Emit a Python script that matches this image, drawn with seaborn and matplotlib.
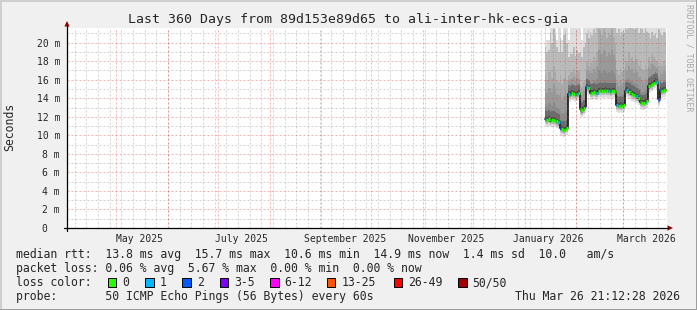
import numpy as np
import pandas as pd
import matplotlib
matplotlib.use("Agg")
import matplotlib.pyplot as plt
import matplotlib.dates as mdates
from matplotlib.patches import Polygon, Rectangle
import seaborn as sns

# ---------------- data ----------------
title = "Last 360 Days from 89d153e89d65 to ali-inter-hk-ecs-gia"
first_day = "2026-01-13"
median_ms = [11.8, 11.7, 11.8, 11.6, 11.7, 11.7, 11.6, 11.5, 11.4,
             10.8, 10.7, 10.6, 10.7, 10.8,
             14.5, 14.4, 14.6, 14.5, 14.4, 14.5, 14.6,
             12.8, 12.7, 12.9, 13.2,
             15.2, 15.1,
             14.6, 14.6, 14.7, 14.6, 14.6, 14.8, 14.9, 14.8, 14.8, 14.9, 14.8, 14.8, 14.7, 14.8, 14.8, 14.7,
             13.3, 13.2, 13.3, 13.2, 13.3,
             14.8, 14.9, 14.7, 14.7,
             14.5, 14.4, 14.3, 14.2, 14.0,
             13.6, 13.5, 13.5, 13.6, 13.7,
             15.3, 15.4, 15.5, 15.7, 15.9, 15.8,
             13.9,
             14.9, 14.8, 14.9, 14.9]
p75_ms = [16.5, 16.0, 16.8, 17.0, 16.2, 17.5, 16.8, 16.0, 15.8, 16.5, 15.5, 16.2, 16.8, 16.0,
          16.5, 17.0, 16.8, 17.2, 16.6, 17.0, 16.9, 15.5, 15.2, 15.8, 16.0,
          18.0, 17.5, 18.2, 17.8, 18.5, 18.0, 19.0,
          21.5, 21.0, 20.8, 21.5, 21.2, 20.5, 21.0, 20.8, 21.5, 20.6, 20.0,
          17.0, 16.5, 17.2, 16.8, 17.0,
          18.5, 18.0, 19.0, 18.2, 18.5, 18.0, 18.6, 18.2, 17.5, 17.8, 17.2, 17.0, 17.6, 17.2,
          18.5, 18.0, 18.8, 18.5, 18.2, 18.0, 17.5, 17.8, 17.5, 18.0, 17.6]
p90_ms = [19.5, 19.0, 19.2, 21.0, 20.0, 21.5, 20.8, 19.5, 19.0, 20.5, 19.0, 20.8, 21.0, 20.0,
          18.5, 19.0, 18.8, 19.5, 18.6, 19.2, 18.9, 19.0, 18.5, 19.5, 20.0,
          21.0, 20.5, 21.2, 20.8, 21.5, 21.0, 22.0,
          23.0, 23.0, 22.5, 23.0, 23.0, 22.8, 23.0, 22.5, 23.0, 22.6, 22.0,
          21.0, 21.5, 20.8, 21.2, 21.0,
          22.0, 21.5, 22.5, 21.8, 22.0, 21.5, 22.0, 21.6, 21.0, 22.0, 21.5, 21.0, 21.8, 21.2,
          21.0, 20.5, 21.2, 20.8, 21.0, 20.5, 21.5, 21.0, 20.8, 21.2, 21.0]
max_ms = [25, 20.3, 20.3, 25, 25, 25, 25, 20.3, 25, 25, 20.3, 25, 25, 25,
          20.3, 25, 25, 25, 25, 25, 25, 25, 20.3, 25, 25,
          25, 25, 25, 25, 25, 25, 25,
          25, 25, 25, 25, 25, 25, 25, 25, 25, 25, 25,
          25, 25, 25, 25, 25,
          25, 25, 25, 25, 25, 25, 25, 25, 25, 25, 25, 25, 25, 25,
          25, 25, 25, 25, 25, 25, 25, 25, 25, 25, 25]
loss_level = [1, 0, 0, 0, 0, 0, 0, 0, 1,
              2, 0, 0, 0, 0,
              1, 0, 0, 0, 0, 1, 0,
              0, 0, 0, 3,
              1, 0,
              0, 0, 0, 0, 1, 0, 0, 0, 0, 0, 0, 1, 0, 0, 0, 0,
              1, 0, 0, 0, 0,
              0, 1, 0, 0,
              0, 0, 0, 1, 0,
              0, 0, 0, 1, 0,
              0, 0, 0, 0, 0, 1,
              2,
              1, 0, 0, 0]

y_ticks = [0, 2, 4, 6, 8, 10, 12, 14, 16, 18, 20]
y_labels = ["0  ", "2 m", "4 m", "6 m", "8 m", "10 m", "12 m", "14 m", "16 m", "18 m", "20 m"]
month_labels = ["May 2025", "July 2025", "September 2025", "November 2025", "January 2026", "March 2026"]
month_label_dates = ["2025-05-15", "2025-07-15", "2025-09-15", "2025-11-15", "2026-01-15", "2026-03-15"]

loss_names = ["0", "1", "2", "3-5", "6-12", "13-25", "26-49", "50/50"]
loss_colors = ["#26ff00", "#00b8ff", "#0059ff", "#7e00ff", "#ff00ff", "#ff5500", "#ff0000", "#a10000"]

legend_rtt = "median rtt:  13.8 ms avg  15.7 ms max  10.6 ms min  14.9 ms now  1.4 ms sd  10.0   am/s"
legend_loss = "packet loss: 0.06 % avg  5.67 % max  0.00 % min  0.00 % now"
legend_probe = "probe:       50 ICMP Echo Pings (56 Bytes) every 60s"
stamp = "Thu Mar 26 21:12:28 2026"

# ---------------- style ----------------
sns.set_style("white")
plt.rcParams["font.family"] = ["DejaVu Sans Mono", "DejaVu Sans"]
MONO = "DejaVu Sans Mono"

W, H = 697, 310
fig = plt.figure(figsize=(W / 100, H / 100), dpi=100, facecolor="#f0f0f0")


def fx(x):
    return x / W


def fy(y):
    return 1 - y / H


L, R, T, B = 67, 667, 28, 228
ax = fig.add_axes([fx(L), fy(B), (R - L) / W, (B - T) / H])
ax.set_facecolor("white")
for s in ax.spines.values():
    s.set_visible(False)

start = pd.Timestamp("2025-04-01 08:00")
end = start + pd.Timedelta(days=360)
x0, x1 = mdates.date2num(start), mdates.date2num(end)
ymax = (B - T) / ((B - 42.7) / 20.0)
ax.set_xlim(x0, x1)
ax.set_ylim(0, ymax)

days = pd.date_range(first_day, periods=len(median_ms), freq="D")
xs = mdates.date2num(days)
xe = np.append(xs, xs[-1] + 1)
med = np.array(median_ms)
p75 = np.array(p75_ms)


def ext(a):
    a = np.asarray(a, dtype=float)
    return np.append(a, a[-1])


def band(lo, hi, alpha):
    ax.fill_between(xe, ext(lo), ext(np.minimum(hi, ymax + 2)), step="post",
                    color="black", alpha=alpha, linewidth=0, zorder=2)


# smoke: stacked translucent bands, darkest around the median
band(med - 0.75, max_ms, 0.13)
band(med - 0.45, p90_ms, 0.16)
for f in (1.0, 0.66, 0.33):
    band(med - 0.25, med + f * (p75 - med), 0.09)
band(med - 0.12, med + 0.9, 0.22)
band(med - 0.05, med + 0.3, 0.3)

# median: dark step line with loss-coloured segments
sns.lineplot(x=xe, y=ext(med), drawstyle="steps-post", color="#202020", lw=1.3,
             estimator=None, ax=ax, zorder=3, legend=False)
ax.hlines(med, xs, xs + 1, colors=[loss_colors[k] for k in loss_level], lw=2.4, zorder=4)

# grid on top (dotted)
red = (0.9, 0.25, 0.25, 0.4)
gray = (0.5, 0.5, 0.5, 0.35)
dots = (0, (2, 2))
for y in range(1, 22):
    ax.axhline(y, color=red if y % 2 == 0 else gray, lw=0.72, ls=dots, zorder=5, snap=True)
weeks = mdates.WeekdayLocator(byweekday=mdates.SU).tick_values(start, end)
months = mdates.MonthLocator().tick_values(start, end)
months = [m for m in months if x0 < m < x1]
for w in weeks:
    if x0 < w < x1:
        ax.axvline(w, color=gray, lw=0.72, ls=dots, zorder=5, snap=True)
for m in months:
    ax.axvline(m, color=red, lw=0.72, ls=dots, zorder=5, snap=True)

# ticks
ax.set_yticks(y_ticks)
ax.set_yticklabels(y_labels, family=MONO, fontsize=7)
ax.set_yticks(range(1, 22, 2), minor=True)
ax.tick_params(axis="y", which="major", length=4, width=0.7, direction="inout", color="#7a2020", pad=3)
ax.tick_params(axis="y", which="minor", length=3, width=0.6, direction="inout", color="#c07070")
ax.set_xticks(mdates.date2num(pd.to_datetime(month_label_dates)))
ax.set_xticklabels(month_labels, family=MONO, fontsize=7)
ax.set_xticks(months, minor=True)
ax.tick_params(axis="x", which="major", length=0, pad=4.5)
ax.tick_params(axis="x", which="minor", length=3, width=0.6, direction="out", color="#7a2020")

# axes lines + arrows (figure pixel coordinates)
fig.add_artist(plt.Line2D([fx(L), fx(L)], [fy(B + 3), fy(26)], color="black", lw=0.9))
fig.add_artist(plt.Line2D([fx(L - 3), fx(R + 1)], [fy(B), fy(B)], color="black", lw=0.9))
fig.add_artist(Polygon([(fx(L - 2.6), fy(26.5)), (fx(L + 2.6), fy(26.5)), (fx(L), fy(21))],
                       closed=True, color="#8b0000", lw=0))
fig.add_artist(Polygon([(fx(R + 0.5), fy(B - 2.6)), (fx(R + 0.5), fy(B + 2.6)), (fx(R + 6), fy(B))],
                       closed=True, color="#8b0000", lw=0))

# texts
fig.text(fx(348), fy(19), title, ha="center", va="center", fontsize=9.5, family=MONO)
fig.text(fx(10), fy(127), "Seconds", rotation=90, ha="center", va="center", fontsize=8.3, family=MONO)
fig.text(fx(688.5), fy(4), "RRDTOOL / TOBI OETIKER", rotation=270, ha="center", va="top",
         fontsize=5.9, family=MONO, color="#a8a8a8")

LX = 16
fig.text(fx(LX), fy(254.5), legend_rtt, ha="left", va="center", fontsize=8.3, family=MONO)
fig.text(fx(LX), fy(268.5), legend_loss, ha="left", va="center", fontsize=8.3, family=MONO)
fig.text(fx(LX), fy(282.5), "loss color:", ha="left", va="center", fontsize=8.3, family=MONO)
fig.text(fx(LX), fy(296.5), legend_probe, ha="left", va="center", fontsize=8.3, family=MONO)
fig.text(fx(680), fy(296.5), stamp, ha="right", va="center", fontsize=8.3, family=MONO)

box_x = [108.0, 145.3, 182.2, 219.6, 270.2, 326.7, 393.8, 458.2]
for bx, name, col in zip(box_x, loss_names, loss_colors):
    fig.add_artist(Rectangle((fx(bx), fy(286.5)), 8.4 / W, 8.6 / H, facecolor=col,
                             edgecolor="black", lw=0.7))
    fig.text(fx(bx + 14.5), fy(282.5), name, ha="left", va="center", fontsize=8.3, family=MONO)

# outer border (rrdtool shade)
fig.add_artist(Rectangle((0, 0), 1.5 / W, 1, facecolor="#cfcfcf", lw=0))
fig.add_artist(Rectangle((0, 1 - 1.5 / H), 1, 1.5 / H, facecolor="#cfcfcf", lw=0))
fig.add_artist(Rectangle((1 - 1.5 / W, 0), 1.5 / W, 1, facecolor="#9e9e9e", lw=0))
fig.add_artist(Rectangle((0, 0), 1, 1.5 / H, facecolor="#9e9e9e", lw=0))

fig.savefig("out.png", dpi=100, facecolor=fig.get_facecolor())
